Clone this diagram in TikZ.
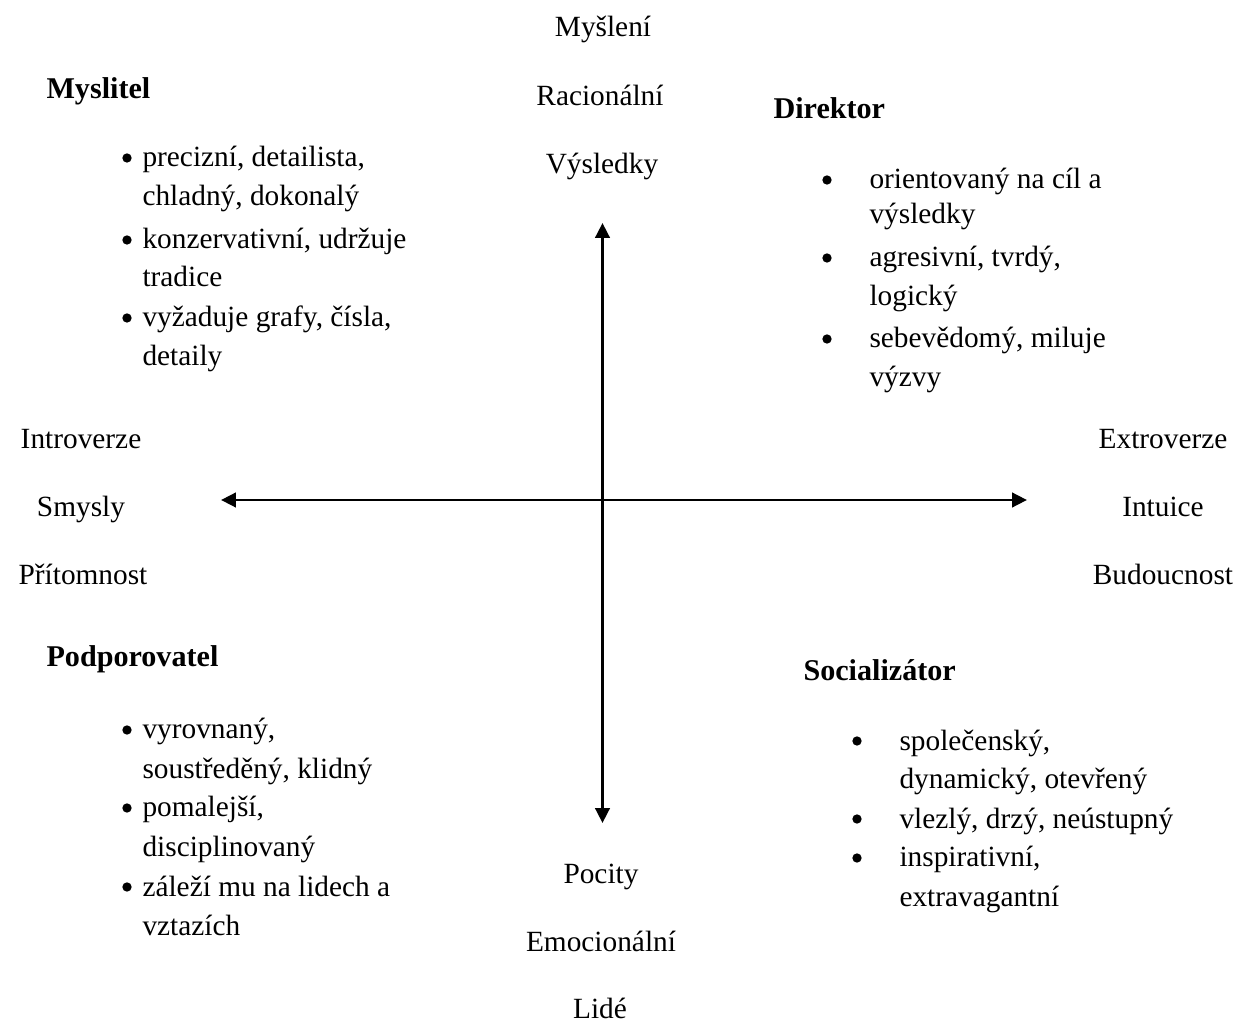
\documentclass[tikz,border=0pt]{standalone}
\usepackage{fontspec}
\setmainfont{Liberation Serif}
\usetikzlibrary{arrows.meta}
\begin{document}
\begin{tikzpicture}[x=0.375pt,y=-0.375pt,
  every node/.style={inner sep=0pt,font=\fontsize{11pt}{13pt}\selectfont},
  lbl/.style={anchor=base},
  item/.style={anchor=base west},
  head/.style={anchor=base west,font=\fontsize{11.3pt}{13pt}\selectfont\bfseries},
  bul/.style={circle,fill=black,minimum size=3.5pt,inner sep=0pt},
  axis/.style={line width=1.1pt,{Triangle[length=5.6pt,width=5.4pt]}-{Triangle[length=5.6pt,width=5.4pt]}}]
\useasboundingbox (0,0) rectangle (1244,1023);
% axes
\coordinate (vt) at (602.5,223);
\coordinate (vb) at (602.5,823);
\coordinate (hl) at (221,500);
\coordinate (hr) at (1027,500);
\draw[axis] (vt) -- (vb);
\draw[axis] (hl) -- (hr);
% axis labels
\node[lbl] (t1) at (603,37) {Myšlení};
\node[lbl] (t2) at (600,106) {Racionální};
\node[lbl] (t3) at (602,174) {Výsledky};
\node[lbl] (l1) at (81,449) {Introverze};
\node[lbl] (l2) at (81,517) {Smysly};
\node[lbl] (l3) at (83,585) {Přítomnost};
\node[lbl] (r1) at (1163,449) {Extroverze};
\node[lbl] (r2) at (1163,517) {Intuice};
\node[lbl] (r3) at (1163,585) {Budoucnost};
\node[lbl] (b1) at (601,883) {Pocity};
\node[lbl] (b2) at (601,951) {Emocionální};
\node[lbl] (b3) at (600,1018) {Lidé};
% Myslitel
\node[head] (mh) at (46,99) {Myslitel};
\node[bul] (mb1) at (127,158) {};
\node[item] (m1) at (142,167) {precizní, detailista,};
\node[item] (m2) at (142,206) {chladný, dokonalý};
\node[bul] (mb2) at (127,240) {};
\node[item] (m3) at (142,249) {konzervativní, udržuje};
\node[item] (m4) at (142,287) {tradice};
\node[bul] (mb3) at (127,318) {};
\node[item] (m5) at (142,327) {vyžaduje grafy, čísla,};
\node[item] (m6) at (142,366) {detaily};
% Direktor
\node[head] (dh) at (773,119) {Direktor};
\node[bul] (db1) at (827,180) {};
\node[item] (d1) at (869,189) {orientovaný na cíl a};
\node[item] (d2) at (869,224) {výsledky};
\node[bul] (db2) at (827,258) {};
\node[item] (d3) at (869,267) {agresivní, tvrdý,};
\node[item] (d4) at (869,306) {logický};
\node[bul] (db3) at (827,339) {};
\node[item] (d5) at (869,348) {sebevědomý, miluje};
\node[item] (d6) at (869,387) {výzvy};
% Podporovatel
\node[head] (ph) at (46,667) {Podporovatel};
\node[bul] (pb1) at (127,730) {};
\node[item] (p1) at (142,739) {vyrovnaný,};
\node[item] (p2) at (142,778) {soustředěný, klidný};
\node[bul] (pb2) at (127,808) {};
\node[item] (p3) at (142,817) {pomalejší,};
\node[item] (p4) at (142,856) {disciplinovaný};
\node[bul] (pb3) at (127,887) {};
\node[item] (p5) at (142,896) {záleží mu na lidech a};
\node[item] (p6) at (142,935) {vztazích};
% Socializator
\node[head] (sh) at (803,680) {Socializátor};
\node[bul] (sb1) at (857,741) {};
\node[item] (s1) at (899,750) {společenský,};
\node[item] (s2) at (899,788) {dynamický, otevřený};
\node[bul] (sb2) at (857,819) {};
\node[item] (s3) at (899,828) {vlezlý, drzý, neústupný};
\node[bul] (sb3) at (857,858) {};
\node[item] (s4) at (899,867) {inspirativní,};
\node[item] (s5) at (899,906) {extravagantní};
\end{tikzpicture}
\end{document}
